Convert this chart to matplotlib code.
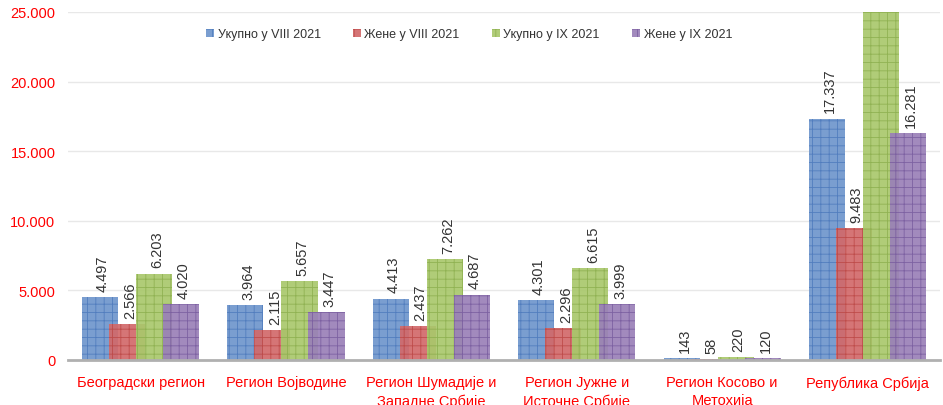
import matplotlib
matplotlib.use('Agg')
import matplotlib.pyplot as plt
import numpy as np

plt.rcParams['font.family'] = ['Liberation Sans', 'DejaVu Sans']
plt.rcParams['hatch.linewidth'] = 0.6

categories = ['Београдски регион', 'Регион Војводине', 'Регион Шумадије и\nЗападне Србије',
              'Регион Јужне и\nИсточне Србије', 'Регион Косово и\nМетохија', 'Република Србија']
series = ['Укупно у VIII 2021', 'Жене у VIII 2021', 'Укупно у IX 2021', 'Жене у IX 2021']
ukupno_viii = [4497, 3964, 4413, 4301, 143, 17337]
zene_viii = [2566, 2115, 2437, 2296, 58, 9483]
ukupno_ix = [6203, 5657, 7262, 6615, 220, 25957]
zene_ix = [4020, 3447, 4687, 3999, 120, 16281]
yticks = [0, 5000, 10000, 15000, 20000, 25000]

values = [ukupno_viii, zene_viii, ukupno_ix, zene_ix]
colors = ['#6f96cc', '#d2696a', '#a9c86c', '#9a80b8']
edges = ['#4f7bbd', '#bd4a48', '#8eb050', '#7a5ea0']

fig = plt.figure(figsize=(9.43, 4.06), dpi=100)
ax = fig.add_axes([0.072, 0.111, 0.925, 0.857])

x = np.arange(len(categories))
w = 0.248
step = 0.186
for i, (vals, c, e, name) in enumerate(zip(values, colors, edges, series)):
    pos = x + (i - 1.5) * step
    ax.bar(pos, vals, width=w, color=c, edgecolor=e, linewidth=0, hatch='++',
           alpha=0.92, label=name, zorder=2 + i)
    for p, v in zip(pos, vals):
        if v > 25000:
            continue
        ax.text(p + 0.02, v + 450, f'{v:,}'.replace(',', '.'), rotation=90, ha='center', va='bottom',
                fontsize=10.5, color='#333333', zorder=10)

ax.set_xlim(-0.5, len(categories) - 0.5)
ax.set_ylim(0, 25000)
ax.set_yticks(yticks)
ax.set_yticklabels([f'{t:,}'.replace(',', '.') for t in yticks], color='red', fontsize=10.5)
ax.set_xticks(x)
ax.set_xticklabels(categories, color='red', fontsize=10.5, linespacing=1.35)
ax.tick_params(axis='both', length=0)
ax.tick_params(axis='x', pad=11)
ax.tick_params(axis='y', pad=9)
ax.grid(axis='y', color='#e8e8e8', linewidth=1, zorder=0)
for s in ['top', 'right', 'left']:
    ax.spines[s].set_visible(False)
ax.spines['bottom'].set_color('#b0b0b0')
ax.spines['bottom'].set_linewidth(2)
ax.spines['bottom'].set_zorder(20)

ax.legend(loc='upper center', bbox_to_anchor=(0.46, 0.985), ncol=4, frameon=False, fontsize=9,
          handlelength=0.6, handleheight=0.6, handletextpad=0.3, columnspacing=2.6, labelcolor='#333333')

fig.savefig('out.png', dpi=100)
